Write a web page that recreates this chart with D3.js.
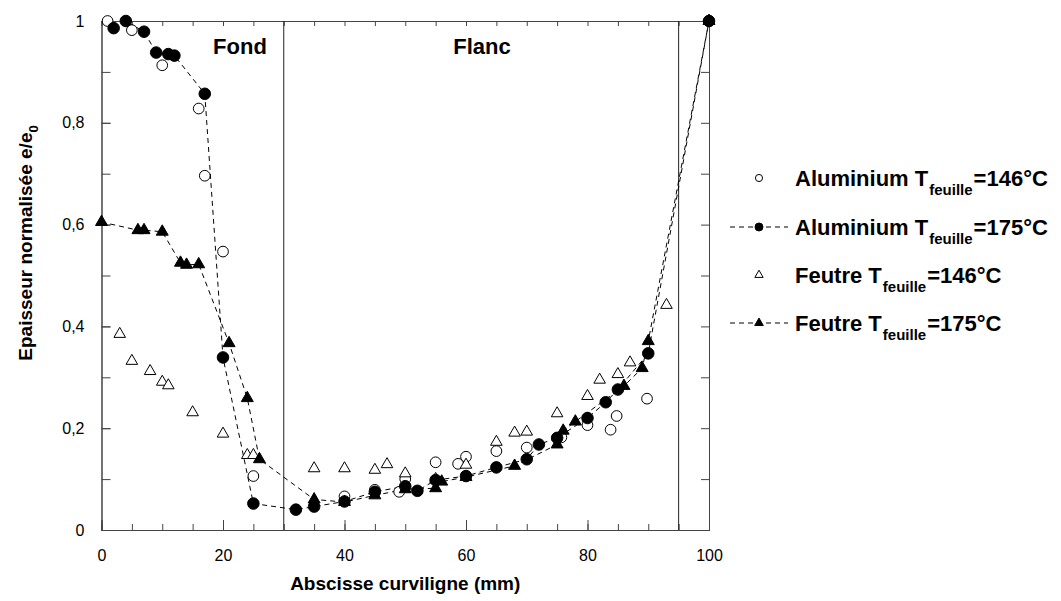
<!DOCTYPE html>
<html>
<head>
<meta charset="utf-8">
<script src="https://cdn.jsdelivr.net/npm/d3@7"></script>
<style>
    body { margin: 0; background: #fff; }
    text { font-family: "Liberation Sans", Arial, sans-serif; }
</style>
</head>
<body>
<div id="chart"></div>
<script>
// données : [abscisse (mm), e/e0]
var alu146 = [[1, 1.0], [5, 0.982], [10, 0.913], [16, 0.828], [17, 0.696], [20, 0.547], [25, 0.106],
    [40, 0.066], [45, 0.079], [49, 0.075], [50, 0.1], [55, 0.133], [58.7, 0.13], [60, 0.144],
    [65, 0.155], [70, 0.162], [75.7, 0.182], [80, 0.206], [83.8, 0.197], [84.8, 0.224],
    [89.8, 0.258], [100, 1.0]];
var alu175 = [[2, 0.986], [4, 1.0], [7, 0.979], [9, 0.938], [11, 0.935], [12, 0.932], [17, 0.857],
    [20, 0.339], [25, 0.052], [32, 0.04], [35, 0.046], [40, 0.056], [45, 0.075], [50, 0.086],
    [52, 0.077], [55, 0.098], [60, 0.106], [65, 0.123], [70, 0.139], [72, 0.168], [75, 0.181],
    [80, 0.22], [83, 0.251], [85, 0.276], [90, 0.347], [100, 1.0]];
var feu146 = [[3, 0.385], [5, 0.332], [8, 0.312], [10, 0.291], [11, 0.284], [15, 0.231], [20, 0.189],
    [24, 0.147], [25, 0.147], [35, 0.121], [40, 0.121], [45, 0.118], [47, 0.129], [50, 0.111],
    [55, 0.1], [60, 0.128], [65, 0.173], [68, 0.191], [70, 0.193], [75, 0.229], [80, 0.263],
    [82, 0.295], [85, 0.306], [87, 0.329], [93, 0.442]];
var feu175 = [[0, 0.605], [6, 0.589], [7, 0.589], [10, 0.586], [13, 0.525], [14, 0.521], [16, 0.522],
    [21, 0.367], [24, 0.259], [26, 0.139], [35, 0.06], [40, 0.055], [45, 0.068], [50, 0.08],
    [55, 0.082], [56, 0.095], [60, 0.104], [68, 0.126], [75, 0.168], [76, 0.195], [78, 0.213],
    [86, 0.283], [89, 0.318], [90, 0.371], [100, 1.0]];
var xTicks = [0, 20, 40, 60, 80, 100];
var yTicks = [0, 0.2, 0.4, 0.6, 0.8, 1];
var zones = [30, 95];
var legendNames = ['Aluminium T', 'Aluminium T', 'Feutre T', 'Feutre T'];
var legendTemps = ['=146°C', '=175°C', '=146°C', '=175°C'];

var width = 1061, height = 601;
var margin = { left: 101.5, top: 21, right: 352, bottom: 71 };

var svg = d3.select('#chart').append('svg')
    .attr('width', width)
    .attr('height', height);

var xScale = d3.scaleLinear().domain([0, 100]).range([margin.left, width - margin.right]);
var yScale = d3.scaleLinear().domain([0, 1]).range([height - margin.bottom, margin.top]);
var x0 = xScale(0), x1 = xScale(100), y0 = yScale(0), y1 = yScale(1);

var fmt = function (d) { return String(d).replace('.', ','); };

// axes avec graduations intérieures
function minorX(len) {
    return d3.axisBottom(xScale).tickValues(d3.range(0, 101, 5)).tickSize(len).tickFormat('');
}
svg.append('g').attr('transform', 'translate(0,' + y0 + ')')
    .call(minorX(-6));
svg.append('g').attr('transform', 'translate(0,' + y0 + ')')
    .call(d3.axisBottom(xScale).tickValues(xTicks).tickSize(-10).tickPadding(20).tickFormat(d => d))
    .selectAll('text').style('font-size', '16px').attr('fill', '#000');
svg.append('g').attr('transform', 'translate(0,' + y1 + ')')
    .call(d3.axisTop(xScale).tickValues(d3.range(0, 101, 5)).tickSize(-5).tickFormat(''));
svg.append('g').attr('transform', 'translate(' + x0 + ',0)')
    .call(d3.axisLeft(yScale).tickValues(d3.range(0, 1.01, 0.1)).tickSize(-9).tickFormat(''));
svg.append('g').attr('transform', 'translate(' + x0 + ',0)')
    .call(d3.axisLeft(yScale).tickValues(yTicks).tickSize(-9).tickPadding(17).tickFormat(fmt))
    .selectAll('text').style('font-size', '16px').attr('fill', '#000');
svg.append('g').attr('transform', 'translate(' + x1 + ',0)')
    .call(d3.axisRight(yScale).tickValues(d3.range(0, 1.01, 0.1)).tickSize(-8).tickFormat(''));
svg.selectAll('.domain').attr('stroke', '#444');
svg.selectAll('.tick line').attr('stroke', '#444');

// séparations Fond / Flanc
svg.selectAll('.zone').data(zones).enter().append('line')
    .attr('x1', d => xScale(d)).attr('x2', d => xScale(d))
    .attr('y1', y0).attr('y2', y1)
    .attr('stroke', '#222').attr('stroke-width', 1);
svg.append('text').attr('x', 240).attr('y', 54).attr('text-anchor', 'middle')
    .style('font-size', '22px').style('font-weight', 'bold').text('Fond');
svg.append('text').attr('x', 482).attr('y', 54).attr('text-anchor', 'middle')
    .style('font-size', '22px').style('font-weight', 'bold').text('Flanc');

// courbes en tirets
var line = d3.line().x(d => xScale(d[0])).y(d => yScale(d[1]));
[alu175, feu175].forEach(function (s) {
    svg.append('path').datum(s).attr('d', line)
        .attr('fill', 'none').attr('stroke', '#000')
        .attr('stroke-width', 1).attr('stroke-dasharray', '5,4');
});

var circleSym = d3.symbol().type(d3.symbolCircle);
var triSym = d3.symbol().type(d3.symbolTriangle);
function markers(data, sym, size, fill) {
    svg.append('g').selectAll('path').data(data).enter().append('path')
        .attr('transform', d => 'translate(' + xScale(d[0]) + ',' + yScale(d[1]) + ')')
        .attr('d', sym.size(size)())
        .attr('fill', fill).attr('stroke', '#000').attr('stroke-width', 1);
}
markers(alu146, circleSym, 90, '#fff');
markers(feu146, triSym, 58, '#fff');
markers(alu175, circleSym, 105, '#000');
markers(feu175, triSym, 62, '#000');

// titres d'axes
svg.append('text').attr('x', (x0 + x1) / 2).attr('y', 590).attr('text-anchor', 'middle')
    .style('font-size', '19px').style('font-weight', 'bold').text('Abscisse curviligne (mm)');
var yt = svg.append('text').attr('transform', 'translate(32,243) rotate(-90)')
    .attr('text-anchor', 'middle').style('font-size', '19px').style('font-weight', 'bold');
yt.append('tspan').text('Epaisseur normalisée e/e');
yt.append('tspan').attr('dy', 6).style('font-size', '13px').text('0');

// légende
var legY = [178, 227, 275, 323];
var legSym = [circleSym.size(40)(), circleSym.size(50)(), triSym.size(30)(), triSym.size(32)()];
var legFill = ['#fff', '#000', '#fff', '#000'];
var legDash = [false, true, false, true];
legY.forEach(function (ly, i) {
    if (legDash[i]) {
        svg.append('line').attr('x1', 730).attr('x2', 788).attr('y1', ly).attr('y2', ly)
            .attr('stroke', '#000').attr('stroke-dasharray', '5,4');
    }
    svg.append('path').attr('transform', 'translate(759,' + ly + ')')
        .attr('d', legSym[i]).attr('fill', legFill[i]).attr('stroke', '#000');
    var t = svg.append('text').attr('x', 795).attr('y', ly + 8)
        .style('font-size', '22px').style('font-weight', 'bold');
    t.append('tspan').text(legendNames[i]);
    t.append('tspan').attr('dx', 1).attr('dy', 9).style('font-size', '15px').text('feuille');
    t.append('tspan').attr('dx', 1).attr('dy', -9).text(legendTemps[i]);
});
</script>
</body>
</html>
